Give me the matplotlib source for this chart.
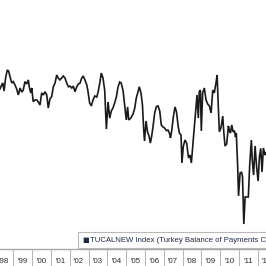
import matplotlib
matplotlib.use("Agg")
import matplotlib.pyplot as plt
import matplotlib.transforms as mtransforms
from matplotlib.patches import Rectangle

# TUCALNEW Index, monthly, USD mn
dates = [
    1998.29, 1998.38, 1998.44, 1998.51, 1998.59, 1998.68, 1998.75, 1998.83, 1998.92,
    1999.00, 1999.09, 1999.18, 1999.27, 1999.36, 1999.45, 1999.53, 1999.62, 1999.71,
    1999.80, 1999.85, 1999.93, 1999.98, 2000.06, 2000.15, 2000.25, 2000.33, 2000.42,
    2000.51, 2000.60, 2000.69, 2000.78, 2000.86, 2000.95, 2001.04, 2001.13, 2001.22,
    2001.31, 2001.39, 2001.48, 2001.57, 2001.66, 2001.75, 2001.84, 2001.93, 2002.02,
    2002.11, 2002.19, 2002.28, 2002.37, 2002.46, 2002.55, 2002.64, 2002.72, 2002.81,
    2002.91, 2002.97, 2003.06, 2003.15, 2003.24, 2003.33, 2003.44, 2003.51, 2003.60,
    2003.68, 2003.77, 2003.86, 2003.95, 2004.04, 2004.13, 2004.21, 2004.30, 2004.39,
    2004.48, 2004.57, 2004.66, 2004.74, 2004.84, 2004.93, 2005.01, 2005.08, 2005.14,
    2005.25, 2005.37, 2005.46, 2005.54, 2005.63, 2005.70, 2005.79, 2005.87, 2005.93,
    2005.98, 2006.06, 2006.14, 2006.22, 2006.29, 2006.36, 2006.43, 2006.52, 2006.61,
    2006.70, 2006.79, 2006.87, 2006.96, 2007.05, 2007.14, 2007.23, 2007.32, 2007.36,
    2007.43, 2007.51, 2007.60, 2007.68, 2007.76, 2007.83, 2007.92, 2007.97, 2008.04,
    2008.13, 2008.22, 2008.32, 2008.40, 2008.47, 2008.54, 2008.63, 2008.72, 2008.77,
    2008.84, 2008.89, 2008.95, 2009.00, 2009.07, 2009.16, 2009.25, 2009.34, 2009.43,
    2009.52, 2009.61, 2009.69, 2009.78, 2009.84, 2009.91, 2009.96, 2010.05, 2010.14,
    2010.19, 2010.26, 2010.35, 2010.44, 2010.50, 2010.55, 2010.62, 2010.69, 2010.76,
    2010.82, 2010.86, 2010.93, 2010.98, 2011.06, 2011.14, 2011.19, 2011.26, 2011.33,
    2011.42, 2011.50, 2011.57, 2011.66, 2011.71, 2011.78, 2011.86, 2011.94, 2012.02,
    2012.09, 2012.16, 2012.23, 2012.30, 2012.39, 2012.44,
]
values = [
    -110, 120, 240, -230, 530, 1000, 940, 590, 240,
    320, 120, -110, -460, -50, -290, -170, 320, 180,
    420, 10, -340, -50, -850, -750, -750, -870, -1050,
    -340, -460, -270, -460, -1220, -690, -560, 20, 240,
    710, 530, 420, 530, 650, 530, 240, 20, 60,
    -50, 60, -270, 10, 180, 240, 530, 650, 420,
    120, -230, -930, -1100, -750, -520, -580, -290, 240,
    820, 530, -170, -2450, -870, -1810, -1400, -1220, -930,
    -580, 10, 300, 240, -230, -1100, -1920, -1160, -1920,
    -1810, -1570, -1220, -640, -290, 20, -340, -1050, -2390,
    -3150, -1980, -2620, -2860, -3270, -2860, -2330, -1510, -1140,
    -1100, -1400, -2210, -2330, -2390, -2540, -2510, -2740, -2970,
    -2510, -1750, -1160, -1450, -2210, -2680, -2800, -4430, -3480,
    -3090, -3270, -4140, -3970, -4430, -3500, -2330, -1160, -460,
    -1810, -270, -170, -2560, -340, -50, -750, -990, -1100,
    -1510, -170, -340, 240, 710, -1340, -2610, -2360, -1690,
    -2560, -3440, -3320, -2270, -2560, -2680, -2210, -2620, -2540,
    -2920, -2680, -4550, -6360, -5020, -4960, -5240, -8000, -6420,
    -6420, -6420, -4610, -3090, -4260, -5140, -3440, -4650, -5490,
    -4080, -3580, -4960, -3560, -3970, -3850,
]
years = list(range(1998, 2013))
legend_label = "TUCALNEW Index (Turkey Balance of Payments Current Account Balance)"

label_font = ["Liberation Sans", "DejaVu Sans"]

fig = plt.figure(figsize=(2.66, 2.66), dpi=100)
ax = fig.add_axes([0, 0.065, 1, 0.935])

ax.plot(dates, values, color="#1a1a1a", linewidth=1.2, solid_joinstyle="miter")
ax.set_xlim(1998.293, 2012.44)
ax.set_ylim(-9443, 5091)

for side in ["top", "left", "right"]:
    ax.spines[side].set_visible(False)
ax.spines["bottom"].set_color("#a8a8a8")
ax.spines["bottom"].set_linewidth(1.0)
ax.set_xticks([])
ax.set_yticks([])

# year separators and labels under the axis
trans = mtransforms.blended_transform_factory(ax.transData, ax.transAxes)
for yr in years[1:]:
    ax.plot([yr, yr], [0, -0.08], transform=trans, color="#b4b4b4",
            linewidth=0.7, clip_on=False)
for yr in years:
    ax.text(yr + 0.5, -0.05, "'%02d" % (yr % 100), transform=trans,
            ha="center", va="center", fontsize=5.7, color="#2b2b2b",
            family=label_font)

# legend box (cut off at the right edge, as in the original)
box = Rectangle((78 / 266, 18 / 266), 0.75, 16 / 266, transform=fig.transFigure,
                facecolor="white", edgecolor="#b8b8b8", linewidth=0.8)
fig.add_artist(box)
fig.text(82 / 266, 26 / 266, "\u25a0", fontsize=5, color="#1e2a44", va="center",
         family=["DejaVu Sans"])
fig.text(89.5 / 266, 26 / 266, legend_label, fontsize=5.6, color="#1e2a44",
         va="center", family=label_font)

fig.savefig("out.png", dpi=100)
